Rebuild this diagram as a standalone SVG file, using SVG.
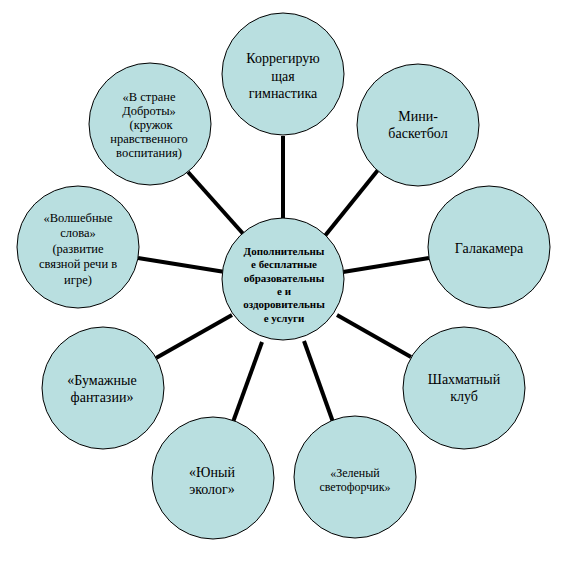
<svg xmlns="http://www.w3.org/2000/svg" width="565" height="565" viewBox="0 0 565 565">
<style>
.bg{fill:#ffffff}
.c{fill:#b9dfe0;stroke:#000;stroke-width:1}
text{font-family:"Liberation Serif","Times New Roman","DejaVu Serif",serif;fill:#000;text-anchor:middle}
.t{font-size:14px}
.s{font-size:12.5px}
.z{font-size:12px}
.m{font-size:11px;font-weight:bold}
.e{stroke:#000;stroke-width:4;fill:none}
</style>
<rect class="bg" width="565" height="565"/>
<g id="connectors">
<line class="e" x1="283" y1="136" x2="283" y2="222"/>
<line class="e" x1="378" y1="170" x2="324" y2="237"/>
<line class="e" x1="429" y1="258" x2="343" y2="272"/>
<line class="e" x1="411" y1="357" x2="337" y2="315"/>
<line class="e" x1="333" y1="422" x2="304" y2="341"/>
<line class="e" x1="233" y1="422" x2="262" y2="342"/>
<line class="e" x1="156" y1="358" x2="232" y2="315"/>
<line class="e" x1="138" y1="258" x2="225" y2="272"/>
<line class="e" x1="188" y1="172" x2="246" y2="237"/>
</g>
<g id="center">
<circle class="c" cx="283" cy="279" r="61"/>
<text class="m" x="284" y="255">Дополнительны</text>
<text class="m" x="284" y="268">е бесплатные</text>
<text class="m" x="284" y="282">образовательны</text>
<text class="m" x="284" y="295">е и</text>
<text class="m" x="284" y="308">оздоровительны</text>
<text class="m" x="284" y="322">е услуги</text>
</g>
<g id="n1">
<circle class="c" cx="283" cy="74" r="61"/>
<text class="t" x="283" y="63">Коррегирую</text>
<text class="t" x="283" y="81">щая</text>
<text class="t" x="283" y="98">гимнастика</text>
</g>
<g id="n2">
<circle class="c" cx="418" cy="125" r="61"/>
<text class="t" x="418" y="121">Мини-</text>
<text class="t" x="418" y="138">баскетбол</text>
</g>
<g id="n3">
<circle class="c" cx="489" cy="247" r="61"/>
<text class="t" x="489" y="253">Галакамера</text>
</g>
<g id="n4">
<circle class="c" cx="464" cy="388" r="61"/>
<text class="t" x="464" y="384">Шахматный</text>
<text class="t" x="464" y="401">клуб</text>
</g>
<g id="n5">
<circle class="c" cx="355" cy="477" r="61"/>
<text class="z" x="355" y="477">«Зеленый</text>
<text class="z" x="355" y="491">светофорчик»</text>
</g>
<g id="n6">
<circle class="c" cx="213" cy="478" r="61"/>
<text class="t" x="212" y="477">«Юный</text>
<text class="t" x="212" y="494">эколог»</text>
</g>
<g id="n7">
<circle class="c" cx="103" cy="388" r="61"/>
<text class="t" x="102" y="385">«Бумажные</text>
<text class="t" x="102" y="402">фантазии»</text>
</g>
<g id="n8">
<circle class="c" cx="78" cy="247" r="61"/>
<text class="s" x="78" y="222">«Волшебные</text>
<text class="s" x="78" y="237">слова»</text>
<text class="s" x="78" y="253">(развитие</text>
<text class="s" x="78" y="268">связной речи в</text>
<text class="s" x="78" y="284">игре)</text>
</g>
<g id="n9">
<circle class="c" cx="150" cy="124" r="61"/>
<text class="s" x="149" y="101">«В стране</text>
<text class="s" x="149" y="115">Доброты»</text>
<text class="s" x="151" y="129">(кружок</text>
<text class="s" x="149" y="143">нравственного</text>
<text class="s" x="149" y="157">воспитания)</text>
</g>
</svg>
